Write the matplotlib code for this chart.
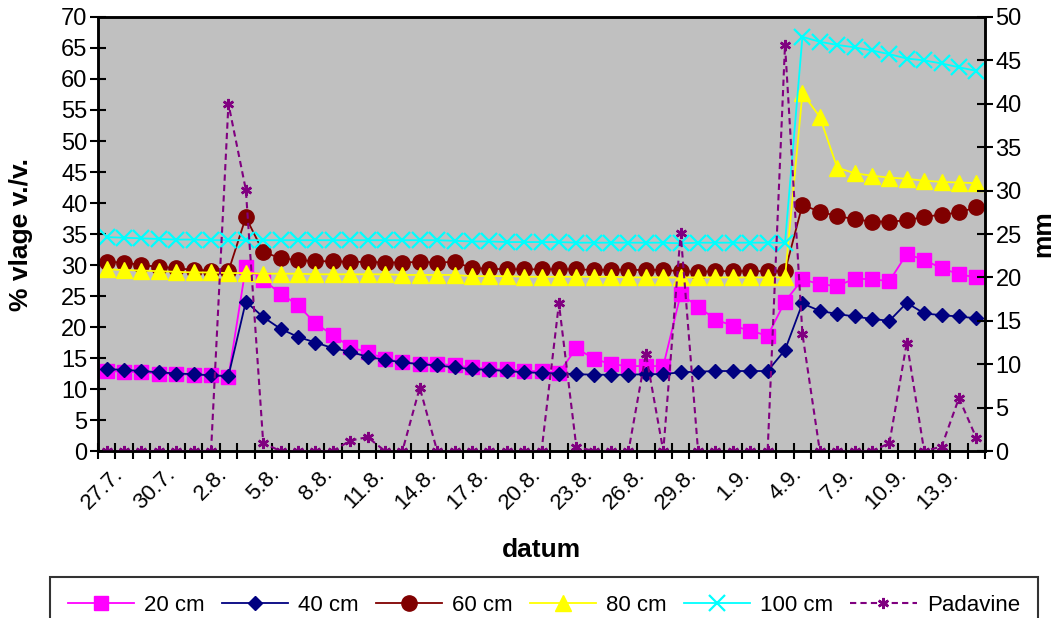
import matplotlib.pyplot as plt
import matplotlib.transforms as mtransforms
import numpy as np

dates = [
    "27.7.", "28.7.", "29.7.", "30.7.", "31.7.", "1.8.", "2.8.", "3.8.", "4.8.", "5.8.",
    "6.8.", "7.8.", "8.8.", "9.8.", "10.8.", "11.8.", "12.8.", "13.8.", "14.8.", "15.8.",
    "16.8.", "17.8.", "18.8.", "19.8.", "20.8.", "21.8.", "22.8.", "23.8.", "24.8.", "25.8.",
    "26.8.", "27.8.", "28.8.", "29.8.", "30.8.", "31.8.", "1.9.", "2.9.", "3.9.", "4.9.",
    "5.9.", "6.9.", "7.9.", "8.9.", "9.9.", "10.9.", "11.9.", "12.9.", "13.9.", "14.9.",
    "15.9.",
]

# soil moisture, % v/v
cm20 = [12.9, 12.8, 12.7, 12.5, 12.4, 12.3, 12.2, 12.0, 29.7, 27.6,
        25.4, 23.5, 20.6, 18.7, 16.8, 15.9, 14.9, 14.3, 14.1, 14.1,
        13.8, 13.5, 13.2, 13.2, 12.9, 12.9, 12.6, 16.6, 14.9, 14.0,
        13.7, 13.7, 13.7, 25.3, 23.3, 21.2, 20.2, 19.4, 18.6, 24.1,
        27.7, 26.9, 26.6, 27.8, 27.7, 27.4, 31.8, 30.8, 29.5, 28.5,
        28.0]
cm40 = [13.2, 13.1, 12.9, 12.7, 12.5, 12.4, 12.2, 12.1, 24.1, 21.6,
        19.7, 18.4, 17.5, 16.6, 16.0, 15.2, 14.7, 14.3, 14.0, 13.8,
        13.5, 13.2, 13.1, 12.9, 12.7, 12.6, 12.5, 12.4, 12.3, 12.3,
        12.3, 12.4, 12.4, 12.7, 12.8, 12.9, 12.9, 12.9, 12.9, 16.3,
        23.8, 22.6, 22.1, 21.7, 21.3, 21.0, 23.9, 22.2, 21.9, 21.7,
        21.4]
cm60 = [30.5, 30.4, 30.0, 29.7, 29.5, 29.2, 29.1, 29.0, 37.7, 32.1,
        31.1, 30.8, 30.6, 30.6, 30.5, 30.5, 30.4, 30.4, 30.5, 30.4,
        30.5, 29.5, 29.4, 29.3, 29.3, 29.3, 29.3, 29.3, 29.2, 29.2,
        29.2, 29.2, 29.2, 29.0, 28.9, 29.0, 29.0, 29.0, 29.0, 29.0,
        39.7, 38.6, 37.9, 37.4, 37.0, 37.0, 37.2, 37.8, 38.1, 38.5,
        39.3]
cm80 = [29.3, 29.2, 29.1, 29.0, 28.9, 28.8, 28.8, 28.7, 28.7, 28.6,
        28.6, 28.6, 28.5, 28.5, 28.5, 28.5, 28.5, 28.4, 28.4, 28.4,
        28.4, 28.2, 28.2, 28.2, 28.1, 28.1, 28.1, 28.1, 28.1, 28.1,
        28.0, 28.0, 28.0, 28.0, 28.0, 28.0, 28.0, 28.0, 28.0, 28.0,
        57.7, 53.9, 45.7, 44.8, 44.4, 44.1, 43.9, 43.6, 43.4, 43.3,
        43.2]
cm100 = [34.5, 34.4, 34.3, 34.2, 34.1, 34.1, 34.0, 34.0, 34.0, 34.0,
         34.0, 34.0, 34.0, 34.0, 34.0, 34.0, 34.0, 34.0, 34.0, 34.0,
         33.9, 33.8, 33.8, 33.7, 33.7, 33.7, 33.7, 33.6, 33.6, 33.6,
         33.6, 33.6, 33.6, 33.5, 33.6, 33.6, 33.6, 33.6, 33.6, 33.6,
         66.8, 66.0, 65.5, 65.1, 64.6, 64.0, 63.3, 63.0, 62.5, 61.9,
         61.3]
# precipitation, mm
padavine = [0, 0, 0, 0, 0, 0, 0, 40.0, 30.1, 0.9,
            0, 0, 0, 0, 1.2, 1.6, 0, 0, 7.3, 0,
            0, 0, 0, 0, 0, 0, 17.0, 0.5, 0, 0,
            0, 11.2, 0, 25.1, 0, 0, 0, 0, 0, 46.8,
            13.5, 0, 0, 0, 0, 0.9, 12.5, 0, 0.5, 6.1,
            1.5]

plt.rcParams["font.family"] = ["Liberation Sans", "DejaVu Sans"]

fig = plt.figure(figsize=(10.64, 6.18), dpi=100)
ax = fig.add_axes([0.0921, 0.2702, 0.8337, 0.7023])
ax.set_facecolor("#C0C0C0")
x = np.arange(len(dates))

l20, = ax.plot(x, cm20, color="#FF00FF", lw=1.3, marker="s", ms=10, label="20 cm")
l40, = ax.plot(x, cm40, color="#000080", lw=1.3, marker="D", ms=7.5, label="40 cm")
l60, = ax.plot(x, cm60, color="#800000", lw=1.3, marker="o", ms=11, label="60 cm")
l80, = ax.plot(x, cm80, color="#FFFF00", lw=1.3, marker="^", ms=11.5, label="80 cm")
l100, = ax.plot(x, cm100, color="#00FFFF", lw=1.3, marker="x", ms=11, mew=1.6, label="100 cm")

ax2 = ax.twinx()
lpad, = ax2.plot(x, padavine, color="#800080", lw=1.5, ls=(0, (3, 2)),
                 marker=(6, 2, 0), ms=8, mew=1.8, label="Padavine")

ax.set_xlim(-0.5, len(dates) - 0.5)
ax.set_ylim(0, 70)
ax2.set_ylim(0, 50)
ax.set_yticks(np.arange(0, 71, 5))
ax2.set_yticks(np.arange(0, 51, 5))

ax.set_xticks(x[::3])
ax.set_xticklabels(dates[::3], rotation=45, ha="right", va="top",
                   rotation_mode="anchor", fontsize=16)
ax.set_xticks(np.arange(-0.5, len(dates), 1), minor=True)
ax.tick_params(axis="x", which="major", length=0, pad=9)
ax.tick_params(axis="x", which="minor", direction="inout", length=11, width=1.5)
offset = mtransforms.ScaledTranslation(6 / 100, 0, fig.dpi_scale_trans)
for lab in ax.get_xticklabels():
    lab.set_transform(lab.get_transform() + offset)

ax.tick_params(axis="y", direction="inout", length=11, width=1.5, labelsize=17, pad=2)
ax2.tick_params(axis="y", direction="inout", length=11, width=1.5, labelsize=17, pad=2)
for a in (ax, ax2):
    for s in a.spines.values():
        s.set_linewidth(1.8)
        s.set_color("black")

ax.set_ylabel("% vlage v./v.", fontsize=19, fontweight="bold", labelpad=20)
ax2.set_ylabel("mm", fontsize=19, fontweight="bold", labelpad=7)
ax.set_xlabel("datum", fontsize=19, fontweight="bold", labelpad=18)

leg = fig.legend(handles=[l20, l40, l60, l80, l100, lpad], ncol=6, loc="upper left",
                 bbox_to_anchor=(0.047, 0.0663), borderaxespad=0,
                 fontsize=16, frameon=True, fancybox=False, edgecolor="black",
                 handlelength=3.0, handletextpad=0.45, columnspacing=0.75,
                 borderpad=0.8, numpoints=1)
leg.get_frame().set_linewidth(1.5)

plt.savefig("out.png", dpi=100)
